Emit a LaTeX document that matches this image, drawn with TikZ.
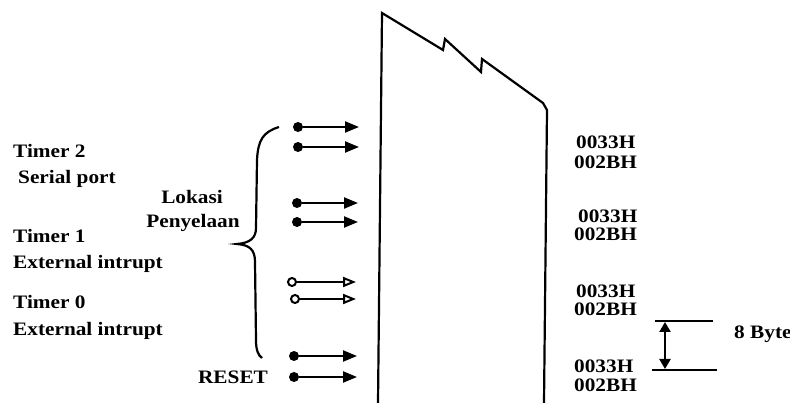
\documentclass[tikz,border=0pt]{standalone}
\usepackage{fontspec}
\setmainfont{Liberation Serif}[FakeStretch=1.12]
\usetikzlibrary{arrows.meta}
\begin{document}
\begin{tikzpicture}[x=1pt,y=-1pt,
  txt/.style={font=\fontsize{19}{21}\selectfont\bfseries, inner sep=0pt, anchor=base west},
  ctxt/.style={font=\fontsize{19}{21}\selectfont\bfseries, inner sep=0pt, anchor=base},
  dotnode/.style={circle, fill=black, inner sep=0pt, minimum size=10pt},
  odotnode/.style={circle, draw=black, line width=2pt, fill=white, inner sep=0pt, minimum size=8pt},
  arr/.style={line width=2.2pt, -{Triangle[length=14pt,width=11pt]}},
  oarr/.style={line width=2pt, -{Triangle[open,length=13pt,width=10pt]}},
  outline/.style={line width=2.2pt, line join=miter},
  dim/.style={line width=2pt}
]
\useasboundingbox (0,0) rectangle (790,403);

% memory block outline
\coordinate (bl) at (378,403);
\coordinate (tl) at (382,13);
\coordinate (z1) at (443,50);
\coordinate (z2) at (445,39);
\coordinate (z3) at (481,72);
\coordinate (z4) at (482,59);
\coordinate (z5) at (543,103);
\coordinate (tr) at (547,110);
\coordinate (br) at (544,403);
\draw[outline] (bl) -- (tl) -- (z1) -- (z2) -- (z3) -- (z4) -- (z5) -- (tr) -- (br);

% left labels
\node[txt] (t2) at (13,158) {Timer 2};
\node[txt] (sp) at (18,184) {Serial port};
\node[txt] (t1) at (13,243) {Timer 1};
\node[txt] (e1) at (13,269) {External intrupt};
\node[txt] (t0) at (13,309) {Timer 0};
\node[txt] (e0) at (13,336) {External intrupt};
\node[ctxt] (lok) at (192,204) {Lokasi};
\node[ctxt] (pen) at (193,228) {Penyelaan};
\node[ctxt] (rst) at (233,384) {RESET};

% brace
\draw[line width=2.2pt] (279,127) .. controls (263,132) and (258,140) .. (257,160)
  -- (256,228) .. controls (256,238) and (250,243) .. (237,244)
  .. controls (250,245) and (255,250) .. (255,262)
  -- (256,340) .. controls (256,350) and (258,355) .. (262,358);

% arrows
\node[dotnode] (d1) at (298,127) {};
\node[dotnode] (d2) at (298,147) {};
\node[dotnode] (d3) at (297,203) {};
\node[dotnode] (d4) at (297,222) {};
\node[odotnode] (d5) at (292,282) {};
\node[odotnode] (d6) at (295,299) {};
\node[dotnode] (d7) at (294,356) {};
\node[dotnode] (d8) at (294,377) {};
\coordinate (a1) at (359,127);
\coordinate (a2) at (359,147);
\coordinate (a3) at (358,203);
\coordinate (a4) at (358,222);
\coordinate (a5) at (356,282);
\coordinate (a6) at (356,299);
\coordinate (a7) at (357,356);
\coordinate (a8) at (357,377);
\draw[arr] (d1) -- (a1);
\draw[arr] (d2) -- (a2);
\draw[arr] (d3) -- (a3);
\draw[arr] (d4) -- (a4);
\draw[oarr] (d5) -- (a5);
\draw[oarr] (d6) -- (a6);
\draw[arr] (d7) -- (a7);
\draw[arr] (d8) -- (a8);

% address labels
\node[txt] (h1) at (576,149) {0033H};
\node[txt] (h2) at (574,169) {002BH};
\node[txt] (h3) at (578,223) {0033H};
\node[txt] (h4) at (574,241) {002BH};
\node[txt] (h5) at (576,298) {0033H};
\node[txt] (h6) at (574,316) {002BH};
\node[txt] (h7) at (574,373) {0033H};
\node[txt] (h8) at (574,391) {002BH};

% 8 byte dimension
\coordinate (l1a) at (655,321);
\coordinate (l1b) at (713,321);
\coordinate (l2a) at (652,370);
\coordinate (l2b) at (717,370);
\draw[dim] (l1a) -- (l1b);
\draw[dim] (l2a) -- (l2b);
\coordinate (da) at (665,322);
\coordinate (db) at (665,369);
\draw[line width=2.2pt, {Triangle[length=10pt,width=11pt]}-{Triangle[length=10pt,width=11pt]}] (da) -- (db);
\node[txt] (byte) at (734,339) {8 Byte};
\end{tikzpicture}
\end{document}
